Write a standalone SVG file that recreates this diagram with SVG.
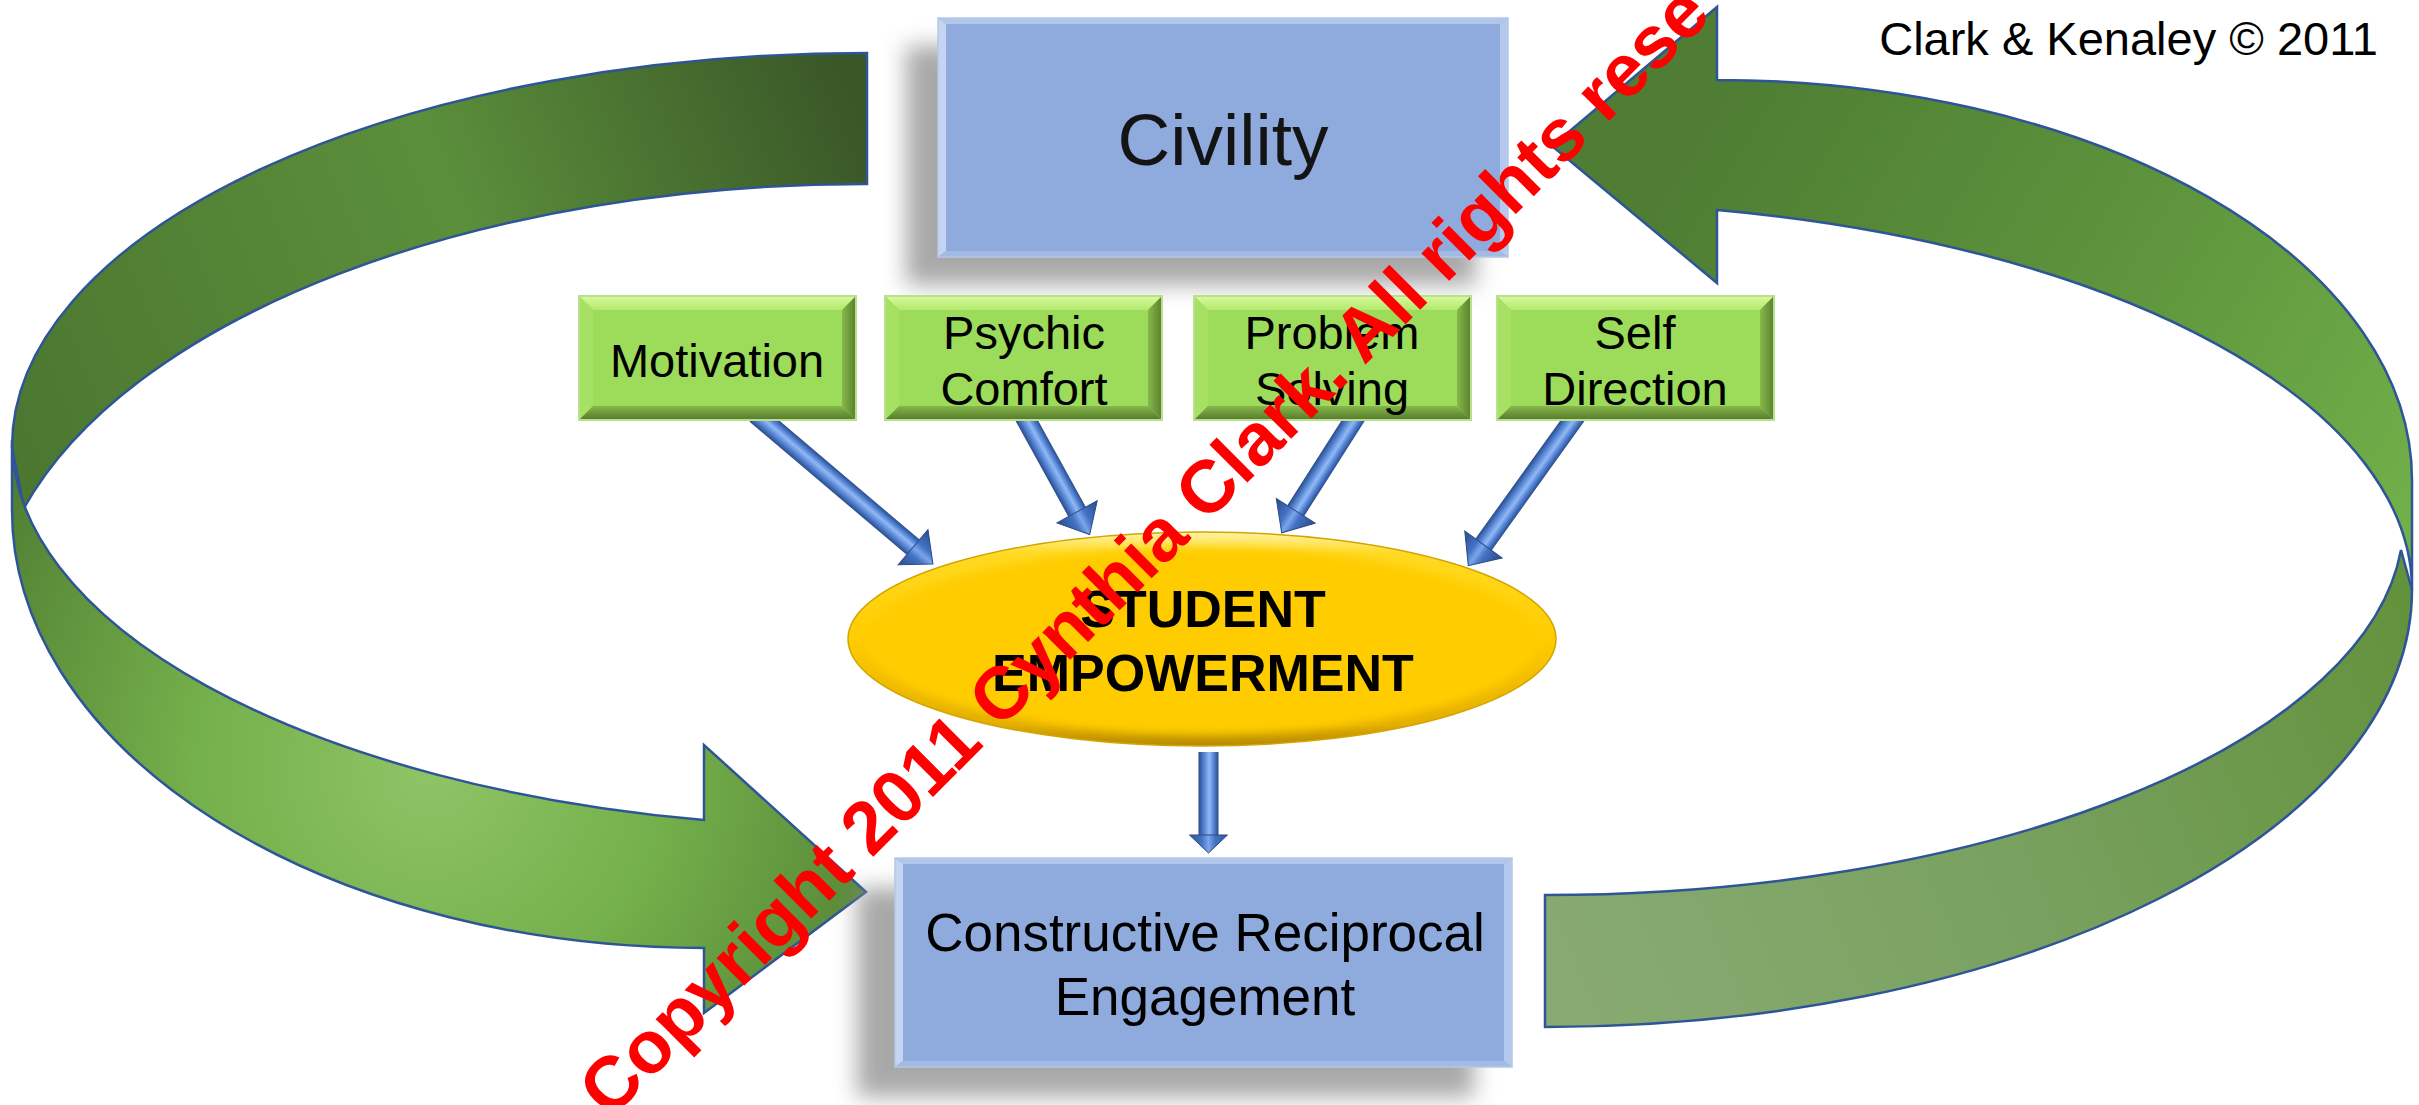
<svg xmlns="http://www.w3.org/2000/svg" xmlns:xlink="http://www.w3.org/1999/xlink" width="2419" height="1105" viewBox="0 0 2419 1105">
<style>
text{font-family:"Liberation Sans",Arial,"Noto Sans",sans-serif;fill:#000}
.big{stroke:#2f5597;stroke-width:2.5;stroke-linejoin:miter}
.lbl{font-size:47px;text-anchor:middle}
.blbl{font-size:53px;text-anchor:middle}
.elbl{font-size:52px;font-weight:bold;text-anchor:middle}
.shaft{fill:url(#shaftG)}
.head{fill:url(#headG);stroke:#2a4a85;stroke-width:1}
.shadow{fill:#8c8c8c;opacity:0.75;filter:url(#blur)}
.wm{font-size:74px;font-weight:bold;fill:#ff0000}
</style>
<defs>
<filter id="blur" x="-20%" y="-30%" width="140%" height="160%"><feGaussianBlur stdDeviation="11"/></filter>
<filter id="soft" x="-10%" y="-10%" width="120%" height="120%"><feGaussianBlur stdDeviation="4"/></filter>
<linearGradient id="lgBack" gradientUnits="userSpaceOnUse" x1="867" y1="120" x2="20" y2="470">
<stop offset="0" stop-color="#395627"/><stop offset="0.45" stop-color="#5b8f3b"/><stop offset="1" stop-color="#4b7730"/>
</linearGradient>
<radialGradient id="lgFront" gradientUnits="userSpaceOnUse" cx="430" cy="770" r="520">
<stop offset="0" stop-color="#8fc466"/><stop offset="0.45" stop-color="#74b04b"/><stop offset="0.85" stop-color="#5a8b39"/><stop offset="1" stop-color="#4c7a30"/>
</radialGradient>
<linearGradient id="rgFront" gradientUnits="userSpaceOnUse" x1="1700" y1="120" x2="2412" y2="560">
<stop offset="0" stop-color="#4e7d33"/><stop offset="0.5" stop-color="#5d933c"/><stop offset="1" stop-color="#72b14a"/>
</linearGradient>
<linearGradient id="rgBack" gradientUnits="userSpaceOnUse" x1="2412" y1="600" x2="1560" y2="960">
<stop offset="0" stop-color="#63923c"/><stop offset="0.5" stop-color="#78a15f"/><stop offset="1" stop-color="#88aa72"/>
</linearGradient>
<linearGradient id="shaftG" gradientUnits="userSpaceOnUse" x1="0" y1="-10" x2="0" y2="10">
<stop offset="0" stop-color="#2b4b86"/><stop offset="0.2" stop-color="#4a7bd0"/><stop offset="0.45" stop-color="#93b8f3"/><stop offset="0.62" stop-color="#6a98e2"/><stop offset="0.85" stop-color="#3f69b5"/><stop offset="1" stop-color="#2a4a85"/>
</linearGradient>
<linearGradient id="headG" gradientUnits="userSpaceOnUse" x1="0" y1="-23" x2="0" y2="23">
<stop offset="0" stop-color="#2b4b86"/><stop offset="0.35" stop-color="#4372c4"/><stop offset="0.5" stop-color="#7aa5ea"/><stop offset="0.65" stop-color="#4372c4"/><stop offset="1" stop-color="#2b4b86"/>
</linearGradient>
<linearGradient id="gTop" x1="0" y1="0" x2="0" y2="1">
<stop offset="0" stop-color="#d8fb9c"/><stop offset="1" stop-color="#b2e86c"/>
</linearGradient>
<linearGradient id="gBot" x1="0" y1="0" x2="0" y2="1">
<stop offset="0" stop-color="#86b84a"/><stop offset="1" stop-color="#56792b"/>
</linearGradient>
<linearGradient id="gRight" x1="0" y1="0" x2="1" y2="0">
<stop offset="0" stop-color="#86b84a"/><stop offset="1" stop-color="#5a802e"/>
</linearGradient>
<linearGradient id="ellG" x1="0" y1="0" x2="0" y2="1">
<stop offset="0" stop-color="#fff3a6"/><stop offset="0.1" stop-color="#ffda22"/><stop offset="0.5" stop-color="#ffcc00"/><stop offset="0.9" stop-color="#e3ae00"/><stop offset="1" stop-color="#b48a00"/>
</linearGradient>
<g id="gbox">
<rect width="277" height="124" fill="#9ddb5a"/>
<polygon points="0,0 277,0 263,14 14,14" fill="url(#gTop)"/>
<polygon points="0,0 14,14 14,110 0,124" fill="#a6e163"/>
<polygon points="277,0 277,124 263,110 263,14" fill="url(#gRight)"/>
<polygon points="0,124 277,124 263,110 14,110" fill="url(#gBot)"/>
<rect width="277" height="124" fill="none" stroke="#b9e08e" stroke-width="2"/>
</g>
</defs>

<g id="connectors">
<path id="cycle-left-back" class="big" fill="url(#lgBack)" d="M867,53 A855 394 0 0 0 12,447 L24,508 A875 446 0 0 1 867,184 Z"/>
<path id="cycle-left-front" class="big" fill="url(#lgFront)" d="M12,440 L12,510 A692 438 0 0 0 704,948 L704,1013 L866,892 L704,745 L704,820 A854 387 0 0 1 12,440 Z"/>
<path id="cycle-right-back" class="big" fill="url(#rgBack)" d="M1545,1027 A867 437 0 0 0 2412,590 L2401,550 A859 375 0 0 1 1545,895 Z"/>
<path id="cycle-right-front" class="big" fill="url(#rgFront)" d="M1717,80 A695 400 0 0 1 2412,480 L2412,590 A860 387 0 0 0 1717,210 L1717,283 L1552,146 L1717,7 Z"/>

<g id="arrow-motivation" transform="translate(756,414) rotate(40.3)">
<rect class="shaft" x="0" y="-10" width="206" height="20"/>
<polygon class="head" points="206,-23 232,0 206,23"/>
</g>
<g id="arrow-psychic" transform="translate(1022,412) rotate(61.1)">
<rect class="shaft" x="0" y="-10" width="114" height="20"/>
<polygon class="head" points="114,-23 140,0 114,23"/>
</g>
<g id="arrow-problem" transform="translate(1358,413) rotate(122.5)">
<rect class="shaft" x="0" y="-10" width="116" height="20"/>
<polygon class="head" points="116,-23 142,0 116,23"/>
</g>
<g id="arrow-self" transform="translate(1578,413) rotate(125.7)">
<rect class="shaft" x="0" y="-10" width="162" height="20"/>
<polygon class="head" points="162,-23 188,0 162,23"/>
</g>
<g id="arrow-down" transform="translate(1208.5,752) rotate(90)">
<rect class="shaft" x="0" y="-10" width="83" height="20"/>
<polygon class="head" points="83,-19 101,0 83,19"/>
</g>
</g>

<g id="node-civility">
<rect class="shadow" x="906" y="46" width="570" height="239"/>
<rect x="938" y="18" width="570" height="239" fill="#8faadc"/>
<polygon points="938,18 946,24 946,251 938,257" fill="#c4d5f2"/>
<polygon points="1508,18 1500,24 1500,251 1508,257" fill="#b5c9ee"/>
<polygon points="938,18 1508,18 1500,24 946,24" fill="#b2c6ea"/>
<polygon points="938,257 1508,257 1500,251 946,251" fill="#a3bbe4"/>
<rect x="938" y="18" width="570" height="239" fill="none" stroke="#b4c7e7" stroke-width="1.5"/>
<text x="1223" y="165" style="font-size:73px;text-anchor:middle;fill:#141414">Civility</text>
</g>

<g id="node-motivation">
<use xlink:href="#gbox" href="#gbox" x="579" y="296"/>
<text class="lbl" x="717" y="377">Motivation</text>
</g>
<g id="node-psychic">
<use xlink:href="#gbox" href="#gbox" x="885" y="296"/>
<text class="lbl" x="1024" y="349">Psychic</text>
<text class="lbl" x="1024" y="405">Comfort</text>
</g>
<g id="node-problem">
<use xlink:href="#gbox" href="#gbox" x="1194" y="296"/>
<text class="lbl" x="1332" y="349">Problem</text>
<text class="lbl" x="1332" y="405">Solving</text>
</g>
<g id="node-self">
<use xlink:href="#gbox" href="#gbox" x="1497" y="296"/>
<text class="lbl" x="1635" y="349">Self</text>
<text class="lbl" x="1635" y="405">Direction</text>
</g>

<g id="node-student">
<ellipse cx="1202" cy="639" rx="354" ry="107" fill="url(#ellG)" stroke="#d4a500" stroke-width="1.5"/>
<ellipse cx="1202" cy="641" rx="336" ry="93" fill="#ffcc00" filter="url(#soft)"/>
<text class="elbl" x="1203" y="627">STUDENT</text>
<text class="elbl" x="1203" y="691">EMPOWERMENT</text>
</g>

<g id="node-engagement">
<rect class="shadow" x="857" y="888" width="617" height="209"/>
<rect x="895" y="858" width="617" height="209" fill="#8faadc"/>
<polygon points="895,858 903,864 903,1061 895,1067" fill="#c4d5f2"/>
<polygon points="1512,858 1504,864 1504,1061 1512,1067" fill="#b5c9ee"/>
<polygon points="895,858 1512,858 1504,864 903,864" fill="#b2c6ea"/>
<polygon points="895,1067 1512,1067 1504,1061 903,1061" fill="#a3bbe4"/>
<rect x="895" y="858" width="617" height="209" fill="none" stroke="#b4c7e7" stroke-width="1.5"/>
<text class="blbl" x="1205" y="951">Constructive Reciprocal</text>
<text class="blbl" x="1205" y="1015">Engagement</text>
</g>

<text id="credit" x="2378" y="55" style="font-size:47px;text-anchor:end">Clark &amp; Kenaley © 2011</text>
<text id="watermark" class="wm" transform="translate(610,1120) rotate(-45)">Copyright 2011 Cynthia Clark. All rights rese</text>
</svg>
